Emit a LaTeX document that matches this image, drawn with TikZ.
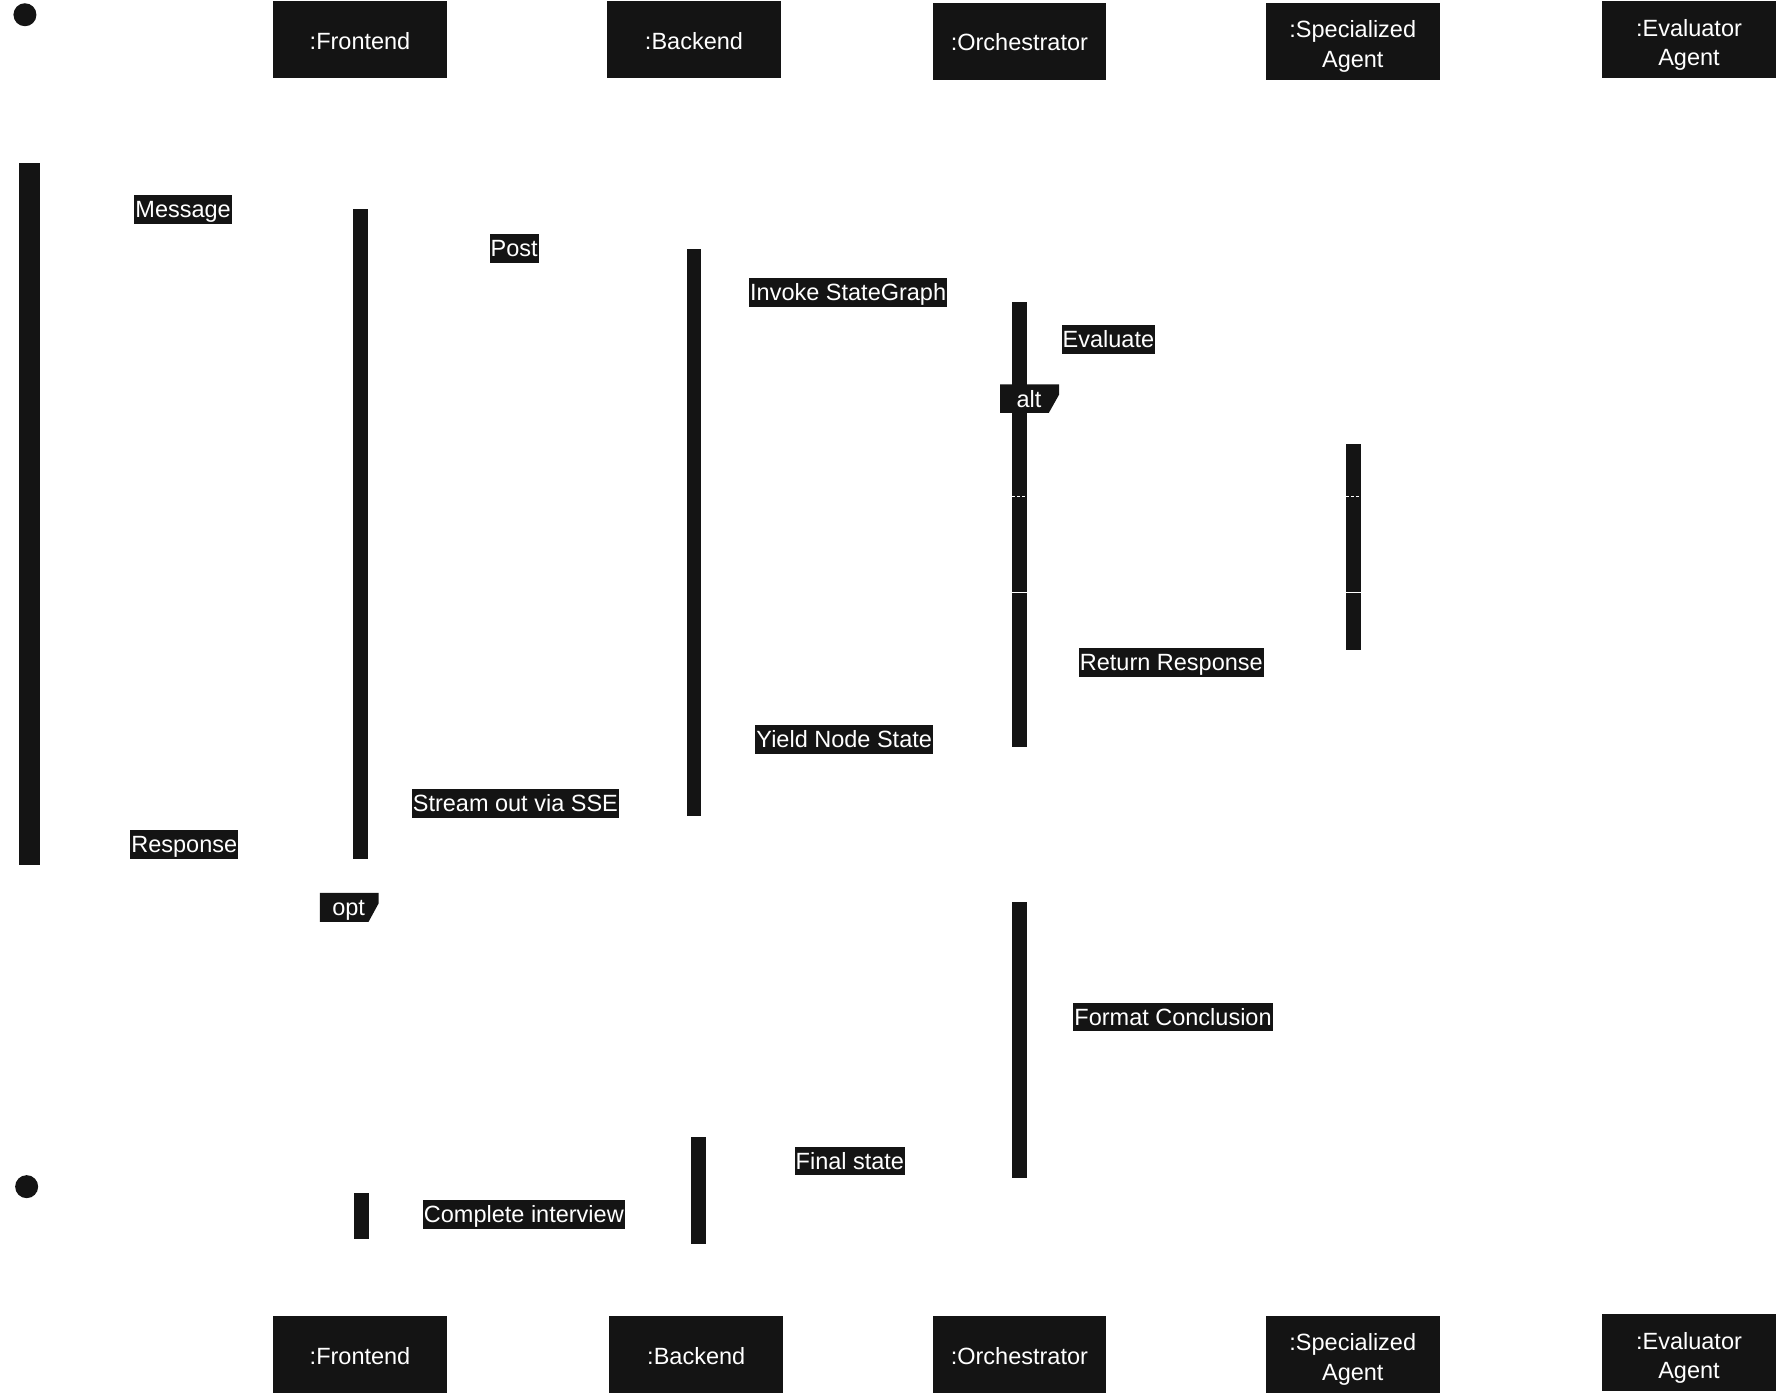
\documentclass[tikz,border=0pt]{standalone}
\usepackage{fontspec}
\setmainfont{Liberation Sans}
\definecolor{ink}{RGB}{20,20,20}
\tikzset{
  part/.style={fill=ink, minimum width=173.5pt, minimum height=77pt, inner sep=0pt},
  ptxt/.style={text=white, inner sep=0pt, align=center, yshift=-1.2pt,
    font=\fontsize{23.5}{29.6}\selectfont},
  ptxtt/.style={ptxt, yshift=-4pt},
  lab/.style={fill=ink, text=white, inner xsep=1pt, inner ysep=3.3pt, text height=19.2pt, text depth=2.8pt,
    font=\fontsize{23.5}{28}\selectfont},
  tagtext/.style={text=white, inner sep=0pt, text height=19.2pt, text depth=2.8pt, font=\fontsize{23.5}{28}\selectfont},
  bar/.style={fill=ink},
  dot/.style={circle, fill=ink, minimum size=23pt, inner sep=0pt},
}
\begin{document}
\begin{tikzpicture}[x=1.1339pt, y=-1.1339pt]
\useasboundingbox (0,0) rectangle (1568,1231);

% start / end dots
\node[dot] (start) at (22,13) {};
\node[dot] (stop) at (23.5,1046.5) {};

% participants (top)
\node[part, label={[ptxt]center::Frontend}] (fe) at (317.5,35) {};
\node[part, label={[ptxt]center::Backend}] (be) at (612,35) {};
\node[part, label={[ptxt]center::Orchestrator}] (or) at (899,36.5) {};
\node[part, label={[ptxtt]center:{:Specialized\\Agent}}] (sa) at (1193,36.5) {};
\node[part, label={[ptxtt]center:{:Evaluator\\Agent}}] (ea) at (1489.5,35) {};

% participants (bottom)
\node[part, label={[ptxt]center::Frontend}] (feb) at (317.5,1194.5) {};
\node[part, label={[ptxt]center::Backend}] (beb) at (614,1194.5) {};
\node[part, label={[ptxt]center::Orchestrator}] (orb) at (899,1194.5) {};
\node[part, label={[ptxtt]center:{:Specialized\\Agent}}] (sab) at (1193,1194.5) {};
\node[part, label={[ptxtt]center:{:Evaluator\\Agent}}] (eab) at (1489.5,1193) {};

% activation bars
\fill[bar] (17,144) rectangle (35,763);
\fill[bar] (311.5,184) rectangle (324.5,757.5);
\fill[bar] (605.5,219.5) rectangle (618.5,719.5);
\fill[bar] (892.5,266) rectangle (905.5,658.5);
\fill[bar] (1187,391.5) rectangle (1200,573);
\fill[bar] (892.5,795.5) rectangle (905.5,1038.5);
\fill[bar] (609.5,1002.5) rectangle (622.5,1097.5);
\fill[bar] (312,1052) rectangle (325,1093);

% separators inside bars
\draw[white, dash pattern=on 3pt off 2pt, line width=0.7pt] (892.5,438) -- (905.5,438);
\draw[white, dash pattern=on 3pt off 2pt, line width=0.7pt] (1187,438) -- (1200,438);
\draw[white, line width=1pt] (892.5,522.5) -- (905.5,522.5);
\draw[white, line width=1pt] (1187,522.5) -- (1200,522.5);

% fragment tags
\fill[ink] (882,339) -- (934,339) -- (934,348) -- (925,364) -- (882,364) -- cycle;
\node[tagtext] (alt) at (907.5,352) {alt};
\fill[ink] (282,787.5) -- (334,787.5) -- (334,796.5) -- (325,813) -- (282,813) -- cycle;
\node[tagtext] (opt) at (307.5,800.5) {opt};

% message labels
\node[lab] (m1) at (161.5,185) {Message};
\node[lab] (m2) at (453.5,219) {Post};
\node[lab] (m3) at (748,258) {Invoke StateGraph};
\node[lab] (m4) at (977.5,299.5) {Evaluate};
\node[lab] (m5) at (1033,584.5) {Return Response};
\node[lab] (m6) at (744.5,652) {Yield Node State};
\node[lab] (m7) at (454.5,708.5) {Stream out via SSE};
\node[lab] (m8) at (162.5,745) {Response};
\node[lab] (m9) at (1034.5,897) {Format Conclusion};
\node[lab] (m10) at (749.5,1024) {Final state};
\node[lab] (m11) at (462,1071) {Complete interview};
\end{tikzpicture}
\end{document}
